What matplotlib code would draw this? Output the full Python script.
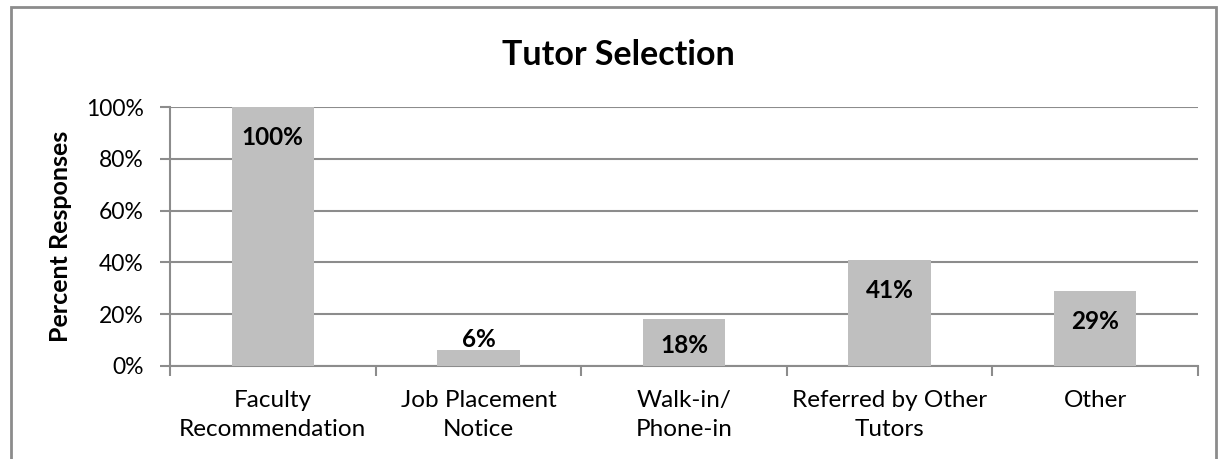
import matplotlib.pyplot as plt
from matplotlib.patches import Rectangle

categories = ['Faculty\nRecommendation', 'Job Placement\nNotice', 'Walk-in/\nPhone-in',
              'Referred by Other\nTutors', 'Other']
values = [100, 6, 18, 41, 29]
value_labels = ['100%', '6%', '18%', '41%', '29%']
yticks = [0, 20, 40, 60, 80, 100]

plt.rcParams['font.family'] = ['Lato', 'DejaVu Sans']

fig = plt.figure(figsize=(12.19, 4.59), dpi=100)
ax = fig.add_axes([170 / 1219, 1 - 366 / 459, 1028 / 1219, 259 / 459])

x = list(range(len(categories)))
ax.bar(x, values, width=0.4, color='#bfbfbf', zorder=3)

ax.set_xlim(-0.5, len(categories) - 0.5)
ax.set_ylim(0, 100)
ax.set_yticks(yticks)
ax.set_yticklabels([f'{t}%' for t in yticks], fontsize=16.5)
ax.yaxis.grid(True, color='#8c8c8c', linewidth=1.5, zorder=0)

ax.set_xticks([i - 0.5 for i in range(len(categories) + 1)], minor=False)
ax.set_xticklabels([''] * (len(categories) + 1))
ax.set_xticks(x, minor=True)
ax.set_xticklabels(categories, minor=True, fontsize=17.5, linespacing=1.5)
ax.tick_params(axis='x', which='minor', length=0, pad=17)
ax.tick_params(axis='x', which='major', length=7, width=1.5, color='#8c8c8c', direction='out')
ax.tick_params(axis='y', length=7, width=1.5, color='#8c8c8c', pad=12)

for s in ['top', 'right']:
    ax.spines[s].set_visible(False)
for s in ['left', 'bottom']:
    ax.spines[s].set_color('#8c8c8c')
    ax.spines[s].set_linewidth(1.5)

# data labels: inside end where they fit, otherwise centred or above
for xi, v, lab in zip(x, values, value_labels):
    if v >= 25:
        ax.annotate(lab, (xi, v), xytext=(0, -22), textcoords='offset points',
                    ha='center', va='center', fontsize=17.5, fontweight='bold', zorder=4)
    elif v >= 12:
        ax.annotate(lab, (xi, v / 2), xytext=(0, -2), textcoords='offset points',
                    ha='center', va='center', fontsize=17.5, fontweight='bold', zorder=4)
    else:
        ax.annotate(lab, (xi, v), xytext=(0, 8), textcoords='offset points',
                    ha='center', va='center', fontsize=17.5, fontweight='bold', zorder=4)

ax.set_ylabel('Percent Responses', fontsize=18, fontweight='bold', labelpad=10)
fig.text(618 / 1219, 1 - 55 / 459, 'Tutor Selection', ha='center', va='center',
         fontsize=24.5, fontweight='bold')

# outer chart frame
fig.patches.append(Rectangle((11 / 1219, -0.05), 1205 / 1219, 1.05 - 7 / 459,
                             transform=fig.transFigure, fill=False,
                             edgecolor='#8c8c8c', linewidth=2))

fig.savefig('out.png', dpi=100)
